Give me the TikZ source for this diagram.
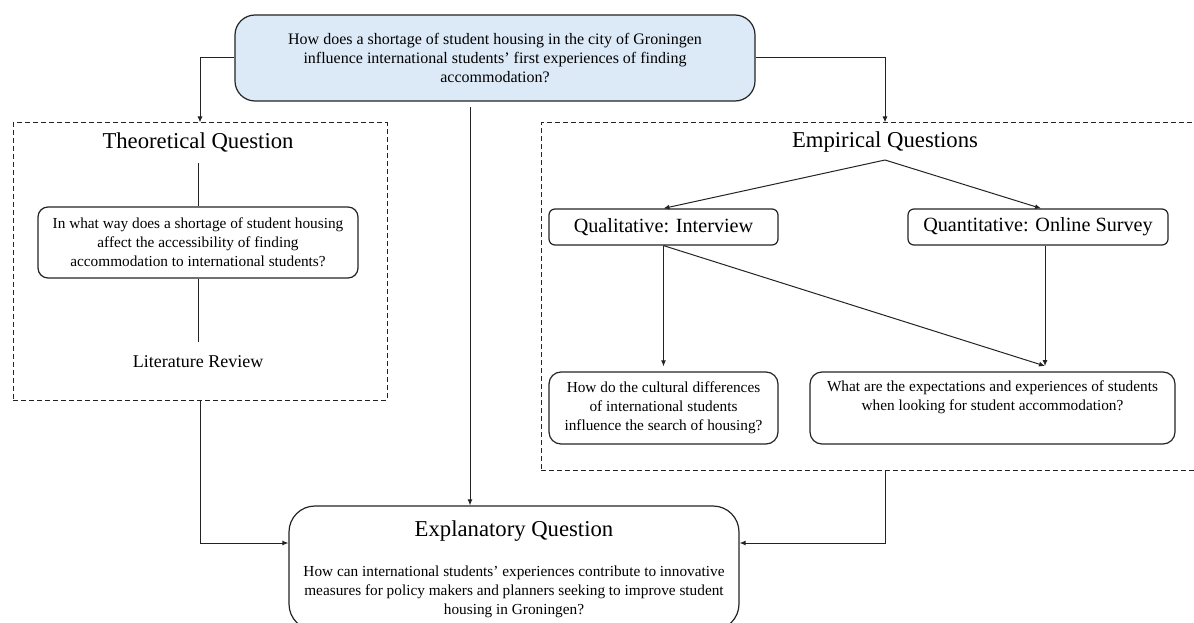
\documentclass[tikz,border=0pt]{standalone}
\usepackage{fontspec}
\setmainfont{Liberation Serif}
\usetikzlibrary{arrows.meta, positioning, calc}
\definecolor{questionblue}{RGB}{220,233,246}
\definecolor{framegray}{RGB}{35,35,35}

\begin{document}
\begin{tikzpicture}[x=1pt, y=-1pt,
  qbox/.style={draw=framegray, line width=1.2pt, align=center, inner sep=0pt,
    font=\fontsize{15.3}{18.8}\selectfont},
  dashframe/.style={draw=framegray, line width=1pt, dash pattern=on 5pt off 3pt, inner sep=0pt},
  heading/.style={font=\fontsize{22.7}{26}\selectfont, inner sep=0pt},
  method/.style={font=\fontsize{20.2}{24}\selectfont},
  flow/.style={-{Latex[length=6pt,width=5pt]}, line width=1pt, framegray},
  link/.style={line width=1pt, framegray}]

  \useasboundingbox (0,0) rectangle (1194,623);

  % main research question
  \node[qbox, fill=questionblue, rounded corners=20pt, minimum width=520pt, minimum height=86pt,
    font=\fontsize{16}{19}\selectfont]
    (main) at (495,58) {How does a shortage of student housing in the city of Groningen\\
    influence international students' first experiences of finding\\ accommodation?};

  % theoretical part
  \node[dashframe, minimum width=374pt, minimum height=277pt] (theory) at (200,261.5) {};
  \node[heading] (theotitle) at (198,142) {Theoretical Question};
  \node[qbox, rounded corners=10pt, minimum width=320pt, minimum height=71pt]
    (theoq) at (198,242.5) {In what way does a shortage of student housing\\
    affect the accessibility of finding\\ accommodation to international students?};
  \node[font=\fontsize{18}{21}\selectfont, inner sep=0pt] (litrev) at (198,362) {Literature Review};

  % empirical part
  \node[dashframe, minimum width=688pt, minimum height=347pt] (empirical) at (885,296.5) {};
  \node[heading] (emptitle) at (885,142) {Empirical Questions};
  \node[qbox, method, rounded corners=6pt, minimum width=229pt, minimum height=36pt]
    (qual) at (663.5,227) {Qualitative: Interview};
  \node[qbox, method, rounded corners=6pt, minimum width=260pt, minimum height=36pt]
    (quant) at (1038,227) {Quantitative: Online Survey};
  \node[qbox, rounded corners=12pt, minimum width=229pt, minimum height=72pt]
    (cult) at (663.5,408) {How do the cultural differences\\ of international students\\
    influence the search of housing?};
  \node[qbox, rounded corners=12pt, minimum width=365pt, minimum height=72pt]
    (expect) at (992.5,408) {What are the expectations and experiences of students\\
    when looking for student accommodation?\\ \strut};

  % explanatory question
  \node[qbox, rounded corners=26pt, minimum width=450pt, minimum height=124pt]
    (explan) at (514,568) {};
  \node[heading] (exptitle) at (514,531) {Explanatory Question};
  \node[align=center, inner sep=0pt, font=\fontsize{15.3}{18.8}\selectfont] (exptext) at (514,592)
    {How can international students' experiences contribute to innovative\\
    measures for policy makers and planners seeking to improve student\\ housing in Groningen?};

  \coordinate (stem) at (470,107);
  \coordinate (fork) at (885,160);
  \coordinate (meet) at (1045,366);

  % connectors
  \draw[flow] (main.west) -| (theory.north);
  \draw[flow] (main.east) -| (empirical.north);
  \draw[flow] (stem) -- (stem |- explan.north);
  \draw[flow] (theory.south) |- ([yshift=25pt]explan.west);
  \draw[flow] (empirical.south) |- ([yshift=25pt]explan.east);

  \draw[link] ([yshift=-11pt]theotitle.south) -- (theoq.north);
  \draw[link] (theoq.south) -- ([yshift=14pt]litrev.north);

  \draw[flow] (fork) -- (qual.north);
  \draw[flow] (fork) -- ([xshift=3pt]quant.north);
  \draw[flow] (qual.south) -- ([yshift=5pt]cult.north);
  \draw[flow] (qual.south) -- (meet);
  \draw[flow] (quant.south -| meet) -- (meet);

\end{tikzpicture}
\end{document}
